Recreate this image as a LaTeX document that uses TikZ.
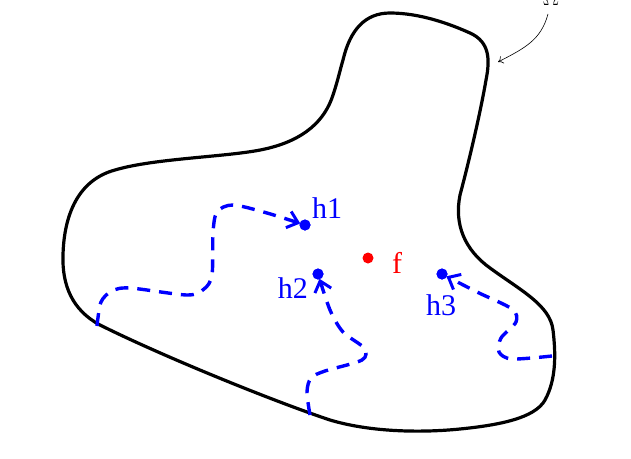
\documentclass[tikz,border=0pt]{standalone}
\usepackage{fontspec}
\setmainfont{Liberation Serif}
\usetikzlibrary{arrows.meta}

\begin{document}
\begin{tikzpicture}[x=1pt, y=-1pt,
    hdot/.style={circle, fill=blue, inner sep=0pt, minimum size=11pt},
    fdot/.style={circle, fill=red, inner sep=0pt, minimum size=11pt},
    lbl/.style={font=\fontsize{30}{36}\selectfont, inner sep=0pt},
    walk/.style={draw=blue, line width=3.4pt, dash pattern=on 13pt off 9pt,
                 -{Straight Barb[length=10pt,width=17pt,line width=3pt]}, shorten >=5pt}]

\useasboundingbox (0,0) rectangle (631,458);

% the domain
\draw[line width=3.2pt] (343,60)
    .. controls (350,30) and (365,13) .. (390,13)
    .. controls (420,13) and (450,24) .. (470,33)
    .. controls (490,42) and (490,60) .. (486,80)
    .. controls (480,115) and (468,165) .. (460,195)
    .. controls (454,225) and (465,250) .. (490,268)
    .. controls (520,290) and (550,305) .. (553,330)
    .. controls (556,355) and (556,380) .. (545,400)
    .. controls (535,418) and (500,425) .. (460,429)
    .. controls (420,433) and (370,432) .. (330,420)
    .. controls (270,400) and (160,355) .. (100,325)
    .. controls (72,310) and (62,285) .. (63,255)
    .. controls (64,215) and (78,180) .. (115,170)
    .. controls (155,158) and (230,157) .. (265,149)
    .. controls (305,140) and (325,120) .. (333,95)
    .. controls (338,80) and (340,70) .. (343,60) -- cycle;

% points
\node[hdot] (h1) at (305,225) {};
\node[hdot] (h2) at (318,274) {};
\node[hdot] (h3) at (442,274) {};
\node[fdot] (f)  at (368,258) {};

% walks from the boundary
\draw[walk] plot[smooth, tension=0.5] coordinates {
    (97,326) (101,302) (112,291) (130,288) (187,295) (204,289) (212,275)
    (213,233) (217,212) (233,205) (267,213) (h1)};
\draw[walk] plot[smooth, tension=0.5] coordinates {
    (310,415) (307,392) (311,378) (325,371) (362,360) (364,348) (343,332)
    (330,310) (h2)};
\draw[walk] plot[smooth, tension=0.5] coordinates {
    (552,356) (512,359) (499,352) (501,338) (516,322) (512,309) (477,292)
    (h3)};

\fill[blue] (h1) circle (5.5pt);
\fill[blue] (h2) circle (5.5pt);
\fill[blue] (h3) circle (5.5pt);

% labels
\node[lbl, blue, anchor=base west] (l1) at (312,218) {h1};
\node[lbl, blue, anchor=base east] (l2) at (308,298) {h2};
\node[lbl, blue, anchor=base] (l3) at (441,315) {h3};
\node[lbl, red, anchor=base west] (lf) at (392,273) {f};
\node[lbl, anchor=base] (om) at (551,5) {$\Omega$};

% pointer to the boundary
\coordinate (tip) at (498,62);
\draw[line width=0.6pt, -{To[length=5pt,width=8pt]}] (548,14)
    .. controls (541,40) and (525,48) .. (tip);

\end{tikzpicture}
\end{document}
